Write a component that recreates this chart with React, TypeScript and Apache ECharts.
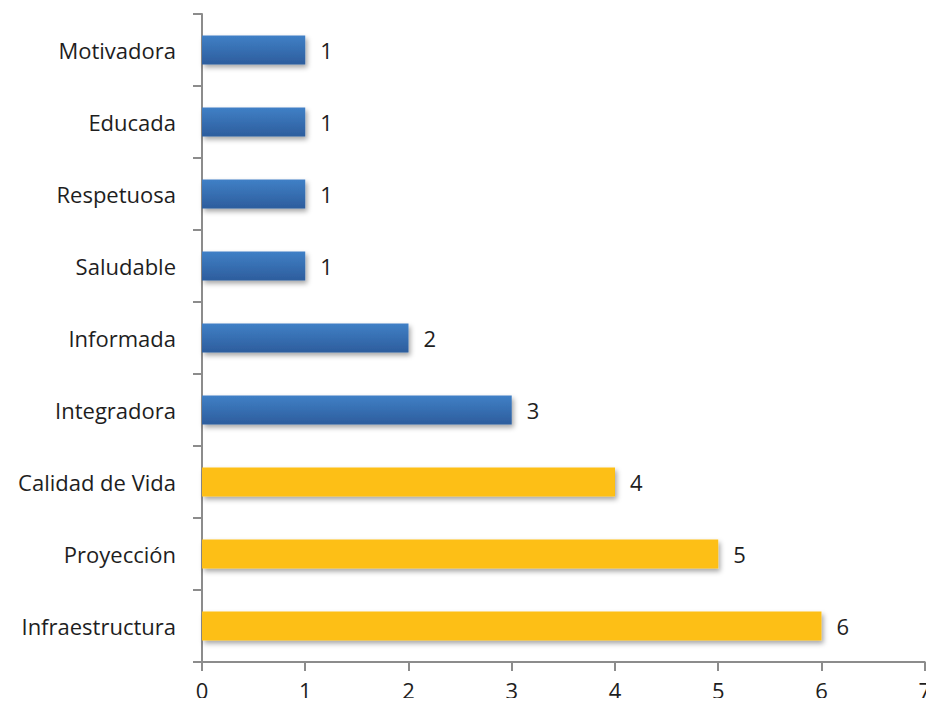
import React, { useEffect, useRef } from "react";
import * as echarts from "echarts";

const categories = [
  "Infraestructura",
  "Proyección",
  "Calidad de Vida",
  "Integradora",
  "Informada",
  "Saludable",
  "Respetuosa",
  "Educada",
  "Motivadora",
];
const values = [6, 5, 4, 3, 2, 1, 1, 1, 1];
const groups = ["yellow", "yellow", "yellow", "blue", "blue", "blue", "blue", "blue", "blue"];
const xTicks = [0, 1, 2, 3, 4, 5, 6, 7];

const FONT = "'Open Sans', 'Noto Sans', sans-serif";

export default function App() {
  const ref = useRef<HTMLDivElement>(null);
  useEffect(() => {
    if (!ref.current) return;
    const chart = echarts.init(ref.current, undefined, { renderer: "svg" });
    const blue = new echarts.graphic.LinearGradient(0, 0, 0, 1, [
      { offset: 0, color: "#4080C6" },
      { offset: 1, color: "#2D5D9D" },
    ]);
    chart.setOption({
      animation: false,
      backgroundColor: "#ffffff",
      grid: { left: 202, right: 7, top: 14, bottom: 44, containLabel: false },
      xAxis: {
        type: "value",
        min: xTicks[0],
        max: xTicks[xTicks.length - 1],
        interval: 1,
        splitLine: { show: false },
        axisLine: { show: true, lineStyle: { color: "#8C8C8C", width: 2 } },
        axisTick: { show: true, length: 9, lineStyle: { color: "#8C8C8C", width: 2 } },
        axisLabel: { color: "#1E1E1E", fontSize: 22, fontFamily: FONT, margin: 17 },
      },
      yAxis: {
        type: "category",
        data: categories,
        boundaryGap: true,
        axisLine: { show: true, lineStyle: { color: "#8C8C8C", width: 2 } },
        axisTick: { show: true, length: 9, interval: 0, lineStyle: { color: "#8C8C8C", width: 2 } },
        axisLabel: { color: "#1E1E1E", fontSize: 22, fontFamily: FONT, margin: 26, interval: 0 },
      },
      series: [
        {
          type: "bar",
          barWidth: "40%",
          data: values.map((v, i) => ({
            value: v,
            itemStyle: {
              color: groups[i] === "yellow" ? "#FDBF12" : blue,
              shadowColor: "rgba(0,0,0,0.35)",
              shadowBlur: 5,
              shadowOffsetX: 2,
              shadowOffsetY: 3,
            },
          })),
          label: {
            show: true,
            position: "right",
            distance: 15,
            color: "#1E1E1E",
            fontSize: 22,
            fontFamily: FONT,
          },
        },
      ],
    });
    return () => chart.dispose();
  }, []);
  return <div ref={ref} style={{ width: 934, height: 706, margin: -8 }} />;
}
